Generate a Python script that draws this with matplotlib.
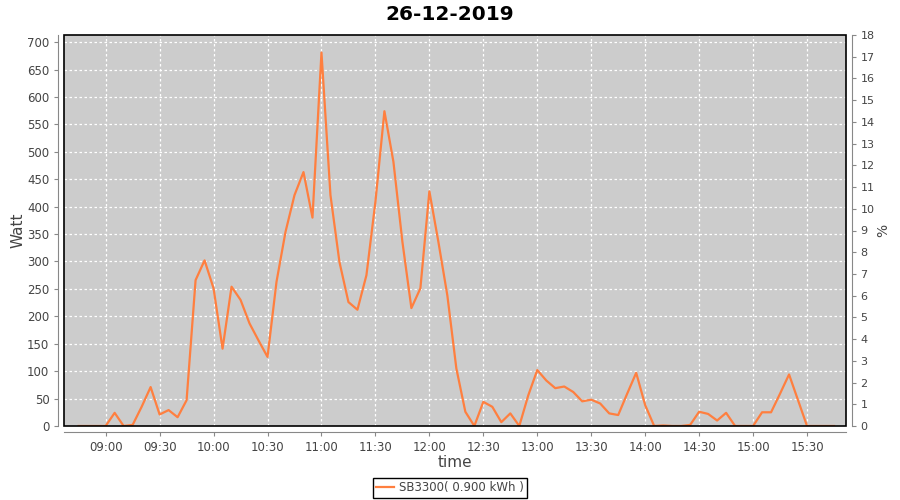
import numpy as np
import pandas as pd
import matplotlib
matplotlib.use("Agg")
import matplotlib.pyplot as plt
import matplotlib.dates as mdates
from matplotlib.patches import Rectangle

# 5-minute samples
times = pd.date_range("2019-12-26 08:45", "2019-12-26 15:45", freq="5min")
watt = [0, 0, 0,
        0, 24, 0, 2, 35, 71, 21, 29, 16, 47, 266, 302,          # 09:00 - 09:55
        251, 141, 254, 230, 187, 156, 126, 263, 354, 421, 463, 380,  # 10:00 - 10:55
        681, 421, 299, 226, 212, 275, 409, 574, 482, 336, 215, 251,  # 11:00 - 11:55
        428, 336, 238, 105, 26, 0, 44, 35, 7, 23, 0, 56,        # 12:00 - 12:55
        102, 83, 69, 72, 62, 45, 48, 41, 23, 20, 59, 97,        # 13:00 - 13:55
        38, 0, 1, 0, 0, 2, 26, 22, 10, 24, 0, 0,                # 14:00 - 14:55
        0, 25, 25, 59, 94, 47, 0, 0, 0, 0]                      # 15:00 - 15:45

title = "26-12-2019"
series_label = "SB3300( 0.900 kWh )"

fig = plt.figure(figsize=(9, 5), dpi=100)
ax = fig.add_axes([64 / 900, 1 - 426 / 500, (846 - 64) / 900, (426 - 35) / 500])
ax.set_facecolor("#CCCCCC")

line, = ax.plot(times, watt, color="#FF7F3F", lw=1.6, zorder=3)

ax.set_ylim(0, 713)
ax.set_yticks(np.arange(0, 701, 50))
ax.set_xlim(pd.Timestamp("2019-12-26 08:36:50"), pd.Timestamp("2019-12-26 15:51:40"))
ax.xaxis.set_major_locator(mdates.MinuteLocator(byminute=[0, 30]))
ax.xaxis.set_major_formatter(mdates.DateFormatter("%H:%M"))

ax.grid(True, color="white", linestyle=(0, (2, 2)), linewidth=0.9)
ax.set_axisbelow(True)

for s in ["top", "right"]:
    ax.spines[s].set_visible(False)
for s in ["left", "bottom"]:
    ax.spines[s].set_position(("outward", 4))
    ax.spines[s].set_color("#888888")
ax.tick_params(colors="#888888", labelcolor="#444444", labelsize=8.5, length=3)

ax2 = ax.twinx()
ax2.set_ylim(0, 18)
ax2.set_yticks(np.arange(0, 19, 1))
for s in ["top", "left", "bottom"]:
    ax2.spines[s].set_visible(False)
ax2.spines["right"].set_position(("outward", 4))
ax2.spines["right"].set_color("#888888")
ax2.tick_params(colors="#888888", labelcolor="#444444", labelsize=8, length=3)

# black plot border
ax.add_patch(Rectangle((0, 0), 1, 1, transform=ax.transAxes, fill=False,
                       edgecolor="black", lw=1.2, zorder=5, clip_on=False))

ax.set_ylabel("Watt", fontsize=11, color="#444444", labelpad=1)
ax.set_xlabel("time", fontsize=11, color="#444444", labelpad=1)
ax2.set_ylabel("%", fontsize=10, color="#444444", labelpad=1)

fig.suptitle(title, x=0.5, y=0.99, fontsize=14.5, fontweight="bold", va="top")

leg = fig.legend([line], [series_label], loc="center", bbox_to_anchor=(0.5, 1 - 488 / 500),
                 fancybox=False, edgecolor="black", fontsize=8.5, handlelength=1.5,
                 handletextpad=0.4, borderpad=0.3, framealpha=1)
leg.get_frame().set_linewidth(1)
for t in leg.get_texts():
    t.set_color("#444444")

fig.savefig("out.png", dpi=100)
